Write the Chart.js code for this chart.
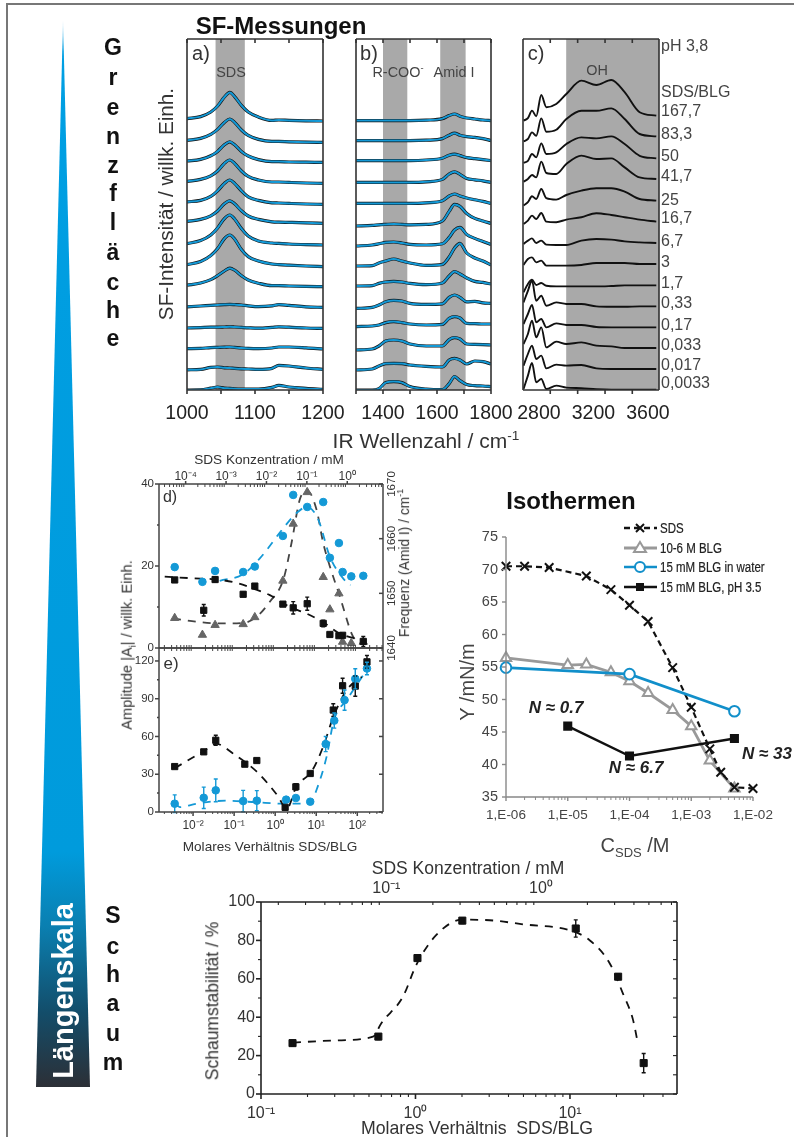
<!DOCTYPE html>
<html>
<head>
<meta charset="utf-8">
<title>SF-Messungen</title>
<script src="https://cdn.jsdelivr.net/npm/chart.js@4/dist/chart.umd.min.js"></script>
<style>
body { margin: 0; background: #fff; font-family: "Liberation Sans", Arial, sans-serif; }
#page { position: relative; width: 794px; height: 1137px; overflow: hidden; filter: blur(0.35px); }
#page canvas { position: absolute; }
.t { position: absolute; white-space: nowrap; transform: translate(-50%, -50%); color: #333; line-height: 1; }
sub, sup { font-size: 65%; line-height: 0; }
</style>
</head>
<body>
<div id="page"></div>
<script>
// sample ratios, top trace first
const ratios = ['167,7', '83,3', '50', '41,7', '25', '16,7', '6,7', '3', '1,7', '0,33', '0,17', '0,033', '0,017', '0,0033'];
const ratioLabelY = [111, 134, 156, 176, 200, 218, 241, 262, 283, 303, 325, 345, 365, 383];

// a) SDS region
const waveA = [1000, 1020, 1035, 1045, 1055, 1063, 1070, 1080, 1090, 1105, 1125, 1135, 1150, 1175, 1200];
const offsetsA = [13.45, 12.38, 11.38, 10.33, 9.28, 8.33, 7.25, 6.17, 5.17, 4.13, 3.08, 2.05, 1.03, 0.03];
const spectraA = [
    [0.12, 0.22, 0.45, 0.75, 1.2, 1.43, 1.22, 0.78, 0.45, 0.2, 0.03, 0.05, 0.03, 0.01, 0],
    [0.1, 0.2, 0.4, 0.65, 1.0, 1.17, 1.0, 0.62, 0.35, 0.15, 0.05, 0.05, 0.03, 0.01, 0],
    [0.07, 0.15, 0.33, 0.55, 0.88, 1.03, 0.88, 0.55, 0.32, 0.14, 0.04, 0.04, 0.02, 0.01, 0],
    [0.1, 0.2, 0.38, 0.62, 1.0, 1.17, 1.0, 0.62, 0.35, 0.17, 0.07, 0.07, 0.05, 0.02, 0],
    [0.13, 0.2, 0.4, 0.68, 1.05, 1.22, 1.05, 0.68, 0.38, 0.2, 0.08, 0.07, 0.05, 0.02, 0],
    [0.1, 0.2, 0.38, 0.62, 0.98, 1.13, 0.98, 0.63, 0.37, 0.2, 0.08, 0.06, 0.05, 0.03, 0],
    [0.07, 0.22, 0.5, 0.85, 1.32, 1.5, 1.3, 0.82, 0.45, 0.2, 0.1, 0.08, 0.05, 0.02, 0],
    [0.1, 0.25, 0.55, 0.9, 1.4, 1.58, 1.38, 0.85, 0.5, 0.28, 0.13, 0.1, 0.07, 0.03, 0],
    [0.07, 0.18, 0.35, 0.55, 0.78, 0.92, 0.82, 0.55, 0.33, 0.17, 0.05, 0.05, 0.03, 0.01, 0],
    [0.03, 0.07, 0.1, 0.12, 0.14, 0.15, 0.14, 0.12, 0.08, 0.04, 0.08, 0.14, 0.1, 0.03, 0],
    [0.02, 0.04, 0.06, 0.06, 0.07, 0.08, 0.07, 0.05, 0.03, 0.01, 0.05, 0.08, 0.06, 0.02, 0],
    [0.02, 0.03, 0.07, 0.08, 0.09, 0.1, 0.08, 0.05, 0.03, 0.02, 0.05, 0.1, 0.1, 0.06, 0],
    [-0.02, 0, 0.1, 0.12, 0.08, 0.07, 0.05, 0.03, 0.02, 0, 0.05, 0.2, 0.17, 0.07, 0],
    [-0.03, -0.02, 0.06, 0.12, 0.06, 0.05, 0.03, 0.02, 0.02, 0.02, 0.1, 0.2, 0.12, 0.05, 0]
];

// b) R-COO / Amid I region
const waveB = [1300, 1360, 1385, 1410, 1440, 1470, 1500, 1560, 1620, 1645, 1665, 1685, 1710, 1740, 1770, 1800];
const offsetsB = [13.47, 12.47, 11.47, 10.38, 9.33, 8.33, 7.28, 6.25, 5.3, 4.33, 3.3, 2.25, 1.3, 0.17];
const spectraB = [
    [0, 0, 0, 0, 0, 0, 0, 0.02, 0.1, 0.25, 0.33, 0.22, 0.13, 0.08, 0.03, 0],
    [0, 0, 0, 0, 0, 0, 0, 0.02, 0.1, 0.27, 0.37, 0.27, 0.2, 0.16, 0.1, 0],
    [0, 0, 0, 0, 0, 0, 0, 0.03, 0.12, 0.27, 0.32, 0.25, 0.15, 0.1, 0.05, 0],
    [0, 0, 0, 0, 0, 0, 0, 0.03, 0.15, 0.42, 0.53, 0.4, 0.2, 0.13, 0.08, 0],
    [0, 0, 0, 0, 0, 0, 0, 0.03, 0.13, 0.37, 0.47, 0.37, 0.27, 0.18, 0.1, 0],
    [-0.13, -0.1, -0.07, -0.05, -0.03, -0.05, -0.07, -0.05, 0.12, 0.6, 0.95, 0.85, 0.5, 0.25, 0.12, 0],
    [-0.08, -0.03, 0.03, 0.1, 0.12, 0.07, 0, -0.03, 0.03, 0.35, 0.72, 0.85, 0.5, 0.3, 0.15, 0],
    [-0.05, -0.03, 0.1, 0.2, 0.3, 0.2, 0.1, -0.02, 0.03, 0.4, 0.85, 1.08, 0.6, 0.35, 0.2, 0],
    [-0.1, -0.08, 0.03, 0.1, 0.13, 0.1, 0.03, -0.03, 0.05, 0.4, 0.62, 0.5, 0.3, 0.13, 0.08, 0],
    [-0.25, -0.2, -0.08, 0.08, 0.15, 0.12, 0, -0.05, -0.02, 0.3, 0.42, 0.3, 0.08, 0.1, 0.03, 0],
    [-0.13, -0.1, -0.05, 0.07, 0.12, 0.07, 0, -0.05, -0.02, 0.28, 0.37, 0.3, 0.03, 0.02, 0, 0],
    [-0.25, -0.2, -0.05, 0.2, 0.25, 0.2, 0.05, -0.05, -0.05, 0.27, 0.37, 0.3, 0.05, 0.03, 0.02, 0],
    [-0.3, -0.25, -0.1, 0.02, 0.03, 0.02, -0.05, -0.12, -0.15, 0.2, 0.28, 0.2, 0, 0.15, 0.12, 0],
    [-0.17, -0.17, -0.1, 0.2, 0.25, 0.2, 0, -0.12, -0.15, 0.15, 0.5, 0.3, 0.1, 0.05, 0.03, 0]
];

// c) CH / OH region
const waveC = [2687, 2719, 2749, 2780, 2817, 2854, 2927, 3001, 3111, 3221, 3331, 3429, 3539, 3661];
const offsetsC = [13.72, 12.68, 11.58, 10.55, 9.47, 8.42, 7.35, 6.3, 5.23, 4.18, 3.13, 2.1, 1.05, 0.02];
const spectraC = [
    [-0.25, -0.13, 0.25, -0.03, 1.03, 0.42, 0.58, 1.08, 1.75, 1.53, 1.78, 1.17, 0.17, 0],
    [-0.25, -0.13, 0.2, 0.03, 0.9, 0.23, 0.33, 0.87, 1.28, 1.28, 1.4, 0.87, 0.12, 0],
    [-0.23, -0.12, 0.22, 0.05, 0.75, 0.22, 0.3, 0.72, 1.05, 1.0, 1.1, 0.72, 0.13, 0],
    [-0.13, 0, 0.2, 0.08, 0.87, 0.3, 0.25, 0.75, 1.17, 1.0, 1.03, 0.58, 0.08, 0],
    [-0.25, -0.08, 0.22, 0.08, 0.58, 0.12, 0.05, 0.28, 0.5, 0.62, 0.62, 0.45, 0.08, 0],
    [-0.12, 0.05, 0.3, 0.13, 0.43, 0, -0.03, 0.1, 0.22, 0.42, 0.33, 0.22, 0.1, 0],
    [-0.05, 0.12, 0.23, 0, 0.12, -0.08, -0.1, -0.1, 0.12, 0.2, 0.17, 0.08, 0.03, 0],
    [-0.05, 0.25, 0.33, 0.08, 0.17, -0.08, -0.08, -0.08, -0.05, 0.05, 0.05, 0.05, 0, 0],
    [-0.35, 0.07, 0.28, 0.02, 0.12, -0.02, -0.05, -0.05, -0.05, -0.05, -0.03, 0, 0, 0],
    [0.2, 0.78, 1.28, 0.28, 0.53, 0.03, 0.2, 0.12, 0.12, 0, -0.02, -0.02, 0, 0],
    [0.17, 0.67, 1.12, 0.25, 0.42, 0, 0.2, 0.12, 0.12, 0.02, 0, 0, 0, 0],
    [0.2, 0.7, 1.37, 0.53, 1.03, 0.03, 0.32, 0.2, 0.28, 0.12, 0.08, 0, 0, 0],
    [0.17, 0.75, 1.17, 0.5, 0.67, 0.03, 0.22, 0.17, 0.2, 0.03, 0, 0, 0, 0],
    [0.03, 0.7, 1.33, 0.37, 0.53, 0.03, 0.2, 0.1, 0.07, 0.02, 0, 0, 0, 0]
];

// d) amplitude and Amid I frequency against molar ratio
const dRatio = [0.00357, 0.0169, 0.0344, 0.166, 0.319, 1.54, 2.75, 6.03, 14.8, 21.5, 35.7, 43.9, 71.4, 140];
const dFreq = [1654.8, 1652.1, 1654.1, 1653.9, 1654.9, 1660.5, 1668, 1665.8, 1666.7, 1656.5, 1659.2, 1653.9, 1653.1, 1653.2];
const dFreqFitX = [0.0447, 0.166, 0.423, 1.57, 3.31, 6.03, 11.2, 21.5, 45.6, 68.7];
const dFreqFit = [1652.3, 1653.5, 1656.4, 1661.9, 1664.7, 1665.8, 1663.5, 1656.7, 1652.7, 1651.5];
const dBlackX = [0.00357, 0.0182, 0.0344, 0.166, 0.319, 1.54, 2.75, 6.03, 14.8, 21.5, 35.7, 43.9, 140];
const dBlack = [16.6, 9.2, 16.7, 13.1, 15.1, 10.7, 9.8, 10.8, 6.0, 3.3, 3.0, 3.1, 1.6];
const dBlackErr = [0.4, 1.4, 0.6, 0.5, 0.5, 0.5, 1.5, 1.6, 0.8, 0.4, 0.4, 0.4, 1.2];
const dBlackFitX = [0.00204, 0.01, 0.0309, 0.114, 0.29, 0.741, 2.28, 5.8, 14.8, 37.8, 140];
const dBlackFit = [17.4, 17, 16.8, 15.9, 14.5, 12.9, 10.0, 8.4, 6.3, 3.5, 1.9];
const dGrey = [7.3, 3.2, 5.6, 5.8, 7.5, 16.4, 30.3, 38.0, 17.3, 9.4, 13.3, 1.5, 1.2, 1.5];
const dGreyFitX = [0.00324, 0.012, 0.0447, 0.166, 0.351, 0.741, 1.57, 2.5, 3.98, 6.03, 10.2, 14.8, 21.5, 37.8, 72.8, 96.4];
const dGreyFit = [7.2, 6.4, 6.0, 6.1, 7.6, 11.3, 16.6, 25.6, 36.2, 38.4, 33.7, 25.6, 19.9, 12.5, 3.5, 1.4];

// e) amplitudes against molar ratio
const eBlackX = [0.00357, 0.0182, 0.0357, 0.182, 0.357, 1.75, 3.19, 7.14, 26, 43.9, 89.3, 172];
const eBlack = [36.1, 47.8, 57, 38, 40.9, 3.7, 20, 30.6, 81, 100.3, 100, 119.3];
const eBlackErr = [1.5, 1.5, 4, 1.5, 1.5, 1, 2.5, 1.5, 5, 6, 8, 5];
const eBlackFitX = [0.00357, 0.0175, 0.037, 0.104, 0.351, 1.18, 1.89, 3.31, 7.7, 14.8, 26.2, 55, 128];
const eBlackFit = [34.8, 48, 54.1, 45.4, 32.2, 12.4, 2.4, 20.3, 32.2, 52, 75.7, 96.8, 107.4];
const eBlueX = [0.00357, 0.0182, 0.0357, 0.166, 0.357, 1.85, 3.19, 7.14, 17, 27.5, 49, 89.3, 172];
const eBlue = [6.6, 11.3, 17.2, 8.7, 9, 9.8, 11.1, 8.2, 54, 72.6, 88.9, 105.8, 114];
const eBlueErr = [7, 8.5, 9, 8.5, 8, 1, 1.5, 1, 6, 6, 8, 8, 5];
const eBlueFitX = [0.00357, 0.00473, 0.012, 0.065, 0.351, 1.57, 7.0, 10.2, 17.9, 27, 55, 169];
const eBlueFit = [7.1, 3.9, 6.6, 9, 7.7, 6.6, 6.6, 17.7, 44, 73, 89, 112.7];

// isotherms
const isoSdsX = [1e-6, 2e-6, 5e-6, 2e-5, 5e-5, 1e-4, 2e-4, 5e-4, 1e-3, 2e-3, 3e-3, 5e-3, 1e-2];
const isoSds = [70.5, 70.5, 70.3, 69, 66.9, 64.5, 62, 54.9, 48.8, 42.4, 38.8, 36.5, 36.3];
const isoBlgX = [1e-6, 1e-5, 2e-5, 5e-5, 1e-4, 2e-4, 5e-4, 1e-3, 2e-3, 5e-3];
const isoBlg = [56.4, 55.3, 55.4, 54.2, 52.8, 51, 48.4, 45.9, 40.6, 36.3];
const isoWaterX = [1e-6, 1e-4, 5e-3];
const isoWater = [54.9, 53.9, 48.2];
const isoAcidX = [1e-5, 1e-4, 5e-3];
const isoAcid = [45.9, 41.3, 44];
const isoTicks = [1e-6, 1e-5, 1e-4, 1e-3, 1e-2];
const isoTickLabels = ['1,E-06', '1,E-05', '1,E-04', '1,E-03', '1,E-02'];
const isoNames = ['SDS', '10-6 M BLG', '15 mM BLG in water', '15 mM BLG, pH 3.5'];

// foam stability
const foamX = [0.16, 0.575, 1.03, 2.01, 10.9, 20.5, 30];
const foam = [26.5, 29.9, 70.8, 90.3, 86.2, 61.1, 16.1];
const foamErr = [1.5, 1.5, 1.5, 1.5, 4.5, 1.5, 5];
const foamFitX = [0.161, 0.308, 0.531, 0.601, 0.83, 1.01, 1.36, 2.01, 3.02, 4.96, 9.95, 13.4, 18.1, 22, 25.6, 27.5];
const foamFit = [26.8, 27.9, 29.9, 36.9, 50.7, 67.1, 82.7, 90.8, 90.5, 88.4, 85.3, 80.1, 68, 52.4, 38.6, 26.5];

const BLUE = '#1499d6';
const page = document.getElementById('page');

function put(html, x, y, css) {
    let el = document.createElement('div');
    el.className = 't';
    el.innerHTML = html;
    el.style.cssText = `left:${x}px;top:${y}px;${css || ''}`;
    page.appendChild(el);
    return el;
}

const pts = (xs, ys) => xs.map((x, i) => ({ x: x, y: ys[i] }));
const supDigits = { '-': '⁻', '0': '⁰', '1': '¹', '2': '²', '3': '³', '4': '⁴' };
const powerLabel = v => '10' + String(Math.round(Math.log10(v))).split('').map(c => supDigits[c]).join('');

function steps(from, to, step) {
    let out = [];
    for (let v = from; v <= to + 1e-9; v += step) out.push(v);
    return out;
}

function minorLog(fromExp, toExp) {
    let out = [];
    for (let e = fromExp; e <= toExp; e++) {
        for (let m = 2; m <= 9; m++) out.push(m * Math.pow(10, e));
    }
    return out;
}

// fixed tick values on an axis, the labels stay the library's
const fixedTicks = values => scale => { scale.ticks = values.map(v => ({ value: v })); };

// draws grey bands, frame and tick marks from the chart's scales
function panelPlugin(cfg) {
    return {
        id: 'panel',
        beforeDatasetsDraw(chart) {
            let { ctx, chartArea: a, scales } = chart;
            (cfg.bands || []).forEach(b => {
                ctx.fillStyle = '#a9a9a9';
                let x0 = scales.x.getPixelForValue(b[0]);
                let x1 = scales.x.getPixelForValue(b[1]);
                ctx.fillRect(x0, a.top, x1 - x0, a.bottom - a.top);
            });
        },
        afterDatasetsDraw(chart) {
            let { ctx, chartArea: a, scales } = chart;
            ctx.save();
            chart.data.datasets.forEach((ds, i) => {
                if (!ds.errors) return;
                let yScale = scales[ds.yAxisID || 'y'];
                ctx.strokeStyle = ds.borderColor;
                ctx.lineWidth = 1.4;
                chart.getDatasetMeta(i).data.forEach((p, k) => {
                    let y0 = yScale.getPixelForValue(ds.data[k].y - ds.errors[k]);
                    let y1 = yScale.getPixelForValue(ds.data[k].y + ds.errors[k]);
                    ctx.beginPath();
                    ctx.moveTo(p.x, y0); ctx.lineTo(p.x, y1);
                    ctx.moveTo(p.x - 2, y0); ctx.lineTo(p.x + 2, y0);
                    ctx.moveTo(p.x - 2, y1); ctx.lineTo(p.x + 2, y1);
                    ctx.stroke();
                });
            });
            ctx.strokeStyle = cfg.color || '#333';
            let lineWidth = cfg.lineWidth || 1.6;
            (cfg.marks || []).forEach(m => {
                let scale = scales[m.scale];
                ctx.lineWidth = m.width || lineWidth;
                m.at.filter(v => v >= scale.min && v <= scale.max).forEach(v => {
                    let p = scale.getPixelForValue(v);
                    ctx.beginPath();
                    if (m.edge == 'top') { ctx.moveTo(p, a.top); ctx.lineTo(p, a.top - m.len); }
                    if (m.edge == 'bottom') { ctx.moveTo(p, a.bottom); ctx.lineTo(p, a.bottom + m.len); }
                    if (m.edge == 'left') { ctx.moveTo(a.left, p); ctx.lineTo(a.left - m.len, p); }
                    if (m.edge == 'right') { ctx.moveTo(a.right, p); ctx.lineTo(a.right + m.len, p); }
                    ctx.stroke();
                });
            });
            ctx.lineWidth = lineWidth;
            ctx.beginPath();
            let sides = cfg.sides || 'lrtb';
            if (sides.includes('l')) { ctx.moveTo(a.left, a.top); ctx.lineTo(a.left, a.bottom); }
            if (sides.includes('r')) { ctx.moveTo(a.right, a.top); ctx.lineTo(a.right, a.bottom); }
            if (sides.includes('t')) { ctx.moveTo(a.left, a.top); ctx.lineTo(a.right, a.top); }
            if (sides.includes('b')) { ctx.moveTo(a.left, a.bottom); ctx.lineTo(a.right, a.bottom); }
            ctx.stroke();
            ctx.restore();
        }
    };
}

// a chart whose plot area sits exactly on box {left, top, right, bottom} of the page
function addChart(box, datasets, scales, cfg) {
    const m = 46;
    let canvas = document.createElement('canvas');
    canvas.width = box.right - box.left + 2 * m;
    canvas.height = box.bottom - box.top + 2 * m;
    canvas.style.left = (box.left - m) + 'px';
    canvas.style.top = (box.top - m) + 'px';
    page.appendChild(canvas);

    let used = {};
    Object.values(scales).forEach(s => {
        s.grid = { display: false, drawTicks: false };
        s.border = { display: false };
        if (s.display === false) return;
        used[s.position] = true;
        s.afterFit = scale => {
            if (scale.isHorizontal()) scale.height = m; else scale.width = m;
        };
    });
    return new Chart(canvas, {
        type: 'line',
        data: { datasets: datasets },
        plugins: [panelPlugin(cfg)],
        options: {
            responsive: false,
            animation: false,
            devicePixelRatio: 1,
            layout: {
                padding: {
                    left: used.left ? 0 : m, right: used.right ? 0 : m,
                    top: used.top ? 0 : m, bottom: used.bottom ? 0 : m
                }
            },
            plugins: { legend: { display: false }, tooltip: { enabled: false } },
            scales: scales
        }
    });
}

function tickFont(size, family) {
    return { size: size, family: family || '"Liberation Sans", Arial, sans-serif' };
}

function spectrumPanel(box, waves, spectra, offsets, withFit, xMin, xMax, labelTicks, markAt, bands) {
    let black = spectra.map((s, i) => ({
        data: pts(waves, s.map(v => v + offsets[i])),
        borderColor: '#111', borderWidth: withFit ? 3.2 : 1.9, pointRadius: 0, cubicInterpolationMode: 'monotone'
    }));
    let blue = withFit ? spectra.map((s, i) => ({
        data: pts(waves, s.map(v => v + offsets[i])),
        borderColor: BLUE, borderWidth: 2, pointRadius: 0, cubicInterpolationMode: 'monotone'
    })) : [];
    addChart(box, blue.concat(black), {
        x: {
            type: 'linear', position: 'bottom', min: xMin, max: xMax,
            afterBuildTicks: fixedTicks(labelTicks),
            ticks: { font: tickFont(19.5), color: '#222', padding: 12, autoSkip: false, maxRotation: 0, callback: v => String(v) }
        },
        y: { type: 'linear', display: false, position: 'left', min: 0, max: 17.55 }
    }, {
        bands: bands, color: '#333',
        marks: [
            { scale: 'x', edge: 'bottom', at: markAt, len: 4 },
            { scale: 'x', edge: 'top', at: markAt, len: -4 }
        ]
    });
}

spectrumPanel({ left: 187, top: 39, right: 323, bottom: 390 }, waveA, spectraA, offsetsA, true,
    1000, 1200, [1000, 1100, 1200], steps(1000, 1200, 50), [[1042, 1085]]);
spectrumPanel({ left: 356, top: 39, right: 491, bottom: 390 }, waveB, spectraB, offsetsB, true,
    1300, 1800, [1400, 1600, 1800], steps(1300, 1800, 100), [[1400, 1490], [1612, 1706]]);
spectrumPanel({ left: 523, top: 39, right: 659, bottom: 390 }, waveC, spectraC, offsetsC, false,
    2683, 3681, [2800, 3200, 3600], [2883, 3084, 3285, 3485], [[3000, 3681]]);

// panels d and e share the molar ratio axis
const ratioMin = 0.00148, ratioMax = 423;
const ratioDecades = [0.01, 0.1, 1, 10, 100];

const dashed = (xs, ys, color) => ({
    data: pts(xs, ys), borderColor: color, borderWidth: 1.8, borderDash: [8, 7],
    pointRadius: 0, cubicInterpolationMode: 'monotone'
});
const dots = (xs, ys, color, style, radius, errors) => ({
    data: pts(xs, ys), showLine: false, borderColor: color, backgroundColor: color,
    pointStyle: style, pointRadius: radius, errors: errors
});

let freqDots = dots(dRatio, dFreq, BLUE, 'circle', 3.8);
freqDots.yAxisID = 'yFreq';
let freqFit = dashed(dFreqFitX, dFreqFit, BLUE);
freqFit.yAxisID = 'yFreq';

addChart({ left: 159, top: 484, right: 383, bottom: 648 }, [
    dots(dBlackX, dBlack, '#111', 'rect', 4.4, dBlackErr),
    freqDots,
    dots(dRatio, dGrey, '#666', 'triangle', 4.8),
    dashed(dBlackFitX, dBlackFit, '#111'),
    freqFit,
    dashed(dGreyFitX, dGreyFit, '#444')
], {
    x: { type: 'logarithmic', display: false, position: 'bottom', min: ratioMin, max: ratioMax },
    xTop: {
        type: 'logarithmic', position: 'top', min: 0.0000219, max: 7.66,
        afterBuildTicks: fixedTicks([1e-4, 1e-3, 1e-2, 1e-1, 1]),
        ticks: { font: tickFont(12), color: '#333', padding: 0, autoSkip: false, maxRotation: 0, callback: powerLabel }
    },
    y: {
        type: 'linear', position: 'left', min: 0, max: 40,
        afterBuildTicks: fixedTicks([0, 20, 40]),
        ticks: { font: tickFont(11.5), color: '#333', padding: 5, callback: v => String(v) }
    },
    yFreq: {
        type: 'linear', position: 'right', min: 1640, max: 1670,
        afterBuildTicks: fixedTicks([1640, 1650, 1660, 1670]),
        ticks: { font: tickFont(11.5), color: '#333', padding: -4, crossAlign: 'center', minRotation: 90, maxRotation: 90, callback: v => String(v) }
    }
}, {
    color: '#444', lineWidth: 1.5,
    marks: [
        { scale: 'xTop', edge: 'top', at: [1e-4, 1e-3, 1e-2, 1e-1, 1], len: 3 },
        { scale: 'xTop', edge: 'top', at: minorLog(-5, 0), len: -3, width: 1 },
        { scale: 'x', edge: 'bottom', at: minorLog(-3, 2), len: -3, width: 1 },
        { scale: 'y', edge: 'left', at: [0, 20, 40], len: 4 },
        { scale: 'y', edge: 'left', at: [10, 30], len: 2 },
        { scale: 'yFreq', edge: 'right', at: [1640, 1650, 1660, 1670], len: -4 }
    ]
});

addChart({ left: 159, top: 648, right: 383, bottom: 812 }, [
    dots(eBlackX, eBlack, '#111', 'rect', 4.4, eBlackErr),
    dots(eBlueX, eBlue, BLUE, 'circle', 3.8, eBlueErr),
    dashed(eBlackFitX, eBlackFit, '#111'),
    dashed(eBlueFitX, eBlueFit, BLUE)
], {
    x: {
        type: 'logarithmic', position: 'bottom', min: ratioMin, max: ratioMax,
        afterBuildTicks: fixedTicks(ratioDecades),
        ticks: { font: tickFont(12), color: '#333', padding: 6, autoSkip: false, maxRotation: 0, callback: powerLabel }
    },
    y: {
        type: 'linear', position: 'left', min: 0, max: 130.3,
        afterBuildTicks: fixedTicks([0, 30, 60, 90, 120]),
        ticks: { font: tickFont(11.5), color: '#333', padding: 5, callback: v => String(v) }
    }
}, {
    color: '#444', lineWidth: 1.5,
    marks: [
        { scale: 'x', edge: 'bottom', at: ratioDecades, len: 4 },
        { scale: 'x', edge: 'bottom', at: minorLog(-3, 2), len: 2, width: 1 },
        { scale: 'x', edge: 'top', at: minorLog(-3, 2), len: -3, width: 1 },
        { scale: 'y', edge: 'left', at: [0, 30, 60, 90, 120], len: 4 },
        { scale: 'y', edge: 'left', at: [15, 45, 75, 105], len: 2 },
        { scale: 'y', edge: 'right', at: [0, 30, 60, 90, 120], len: -4 }
    ]
});

// isotherms
const isoLine = (xs, ys, color, width, dash, style, radius, fill) => ({
    data: pts(xs, ys), borderColor: color, borderWidth: width, borderDash: dash,
    pointStyle: style, pointRadius: radius, pointBorderColor: color, pointBackgroundColor: fill,
    pointBorderWidth: 2, clip: false
});
addChart({ left: 506, top: 537, right: 753, bottom: 797 }, [
    isoLine(isoAcidX, isoAcid, '#111', 2.4, [], 'rect', 5, '#111'),
    isoLine(isoWaterX, isoWater, '#118fca', 2.6, [], 'circle', 5.3, '#fff'),
    isoLine(isoSdsX, isoSds, '#111', 2.2, [6, 4], 'crossRot', 6, '#111'),
    isoLine(isoBlgX, isoBlg, '#999', 2.8, [], 'triangle', 6, '#fff')
], {
    x: {
        type: 'logarithmic', position: 'bottom', min: 1e-6, max: 1e-2,
        afterBuildTicks: fixedTicks(isoTicks),
        ticks: {
            font: tickFont(13.5), color: '#444', padding: 10, autoSkip: false, maxRotation: 0,
            callback: v => isoTickLabels[isoTicks.findIndex(t => Math.abs(t / v - 1) < 0.01)]
        }
    },
    y: {
        type: 'linear', position: 'left', min: 35, max: 75,
        afterBuildTicks: fixedTicks(steps(35, 75, 5)),
        ticks: { font: tickFont(14.5), color: '#444', padding: 8, callback: v => String(v) }
    }
}, {
    color: '#888', lineWidth: 1.4, sides: 'lb',
    marks: [
        { scale: 'y', edge: 'left', at: steps(35, 75, 5), len: 4 },
        { scale: 'x', edge: 'bottom', at: isoTicks, len: 4 },
        { scale: 'x', edge: 'bottom', at: minorLog(-6, -3), len: 3, width: 1 }
    ]
});

// foam
const foamDecades = [0.1, 1, 10];
addChart({ left: 261, top: 902, right: 677, bottom: 1094 }, [
    dots(foamX, foam, '#111', 'rect', 5, foamErr),
    dashed(foamFitX, foamFit, '#111')
], {
    x: {
        type: 'logarithmic', position: 'bottom', min: 0.1, max: 49.3,
        afterBuildTicks: fixedTicks(foamDecades),
        ticks: { font: tickFont(16), color: '#333', padding: 10, autoSkip: false, maxRotation: 0, callback: powerLabel }
    },
    xTop: {
        type: 'logarithmic', position: 'top', min: 0.01545, max: 7.6,
        afterBuildTicks: fixedTicks([0.1, 1]),
        ticks: { font: tickFont(16), color: '#333', padding: 4, autoSkip: false, maxRotation: 0, callback: powerLabel }
    },
    y: {
        type: 'linear', position: 'left', min: 0, max: 100,
        afterBuildTicks: fixedTicks(steps(0, 100, 20)),
        ticks: { font: tickFont(16), color: '#333', padding: 6, callback: v => String(Math.round(v)) }
    }
}, {
    color: '#222', lineWidth: 1.6,
    marks: [
        { scale: 'x', edge: 'bottom', at: foamDecades, len: 5 },
        { scale: 'x', edge: 'bottom', at: minorLog(-1, 1), len: 3, width: 1.1 },
        { scale: 'xTop', edge: 'top', at: minorLog(-2, 0), len: -3, width: 1.1 },
        { scale: 'y', edge: 'left', at: steps(0, 100, 20), len: 5 },
        { scale: 'y', edge: 'left', at: steps(10, 90, 20), len: 3, width: 1.1 },
        { scale: 'y', edge: 'right', at: steps(0, 100, 10), len: -4, width: 1.1 }
    ]
});

// page frame and the Längenskala wedge
let frameTop = document.createElement('div');
frameTop.style.cssText = 'position:absolute;left:6px;top:3px;width:788px;height:2px;background:#777';
page.appendChild(frameTop);
let frameLeft = document.createElement('div');
frameLeft.style.cssText = 'position:absolute;left:6px;top:3px;width:2px;height:1134px;background:#777';
page.appendChild(frameLeft);
let wedge = document.createElement('div');
wedge.style.cssText = 'position:absolute;left:36px;top:20px;width:54px;height:1067px;clip-path:polygon(50% 0,100% 100%,0 100%);' +
    'background:linear-gradient(to bottom,#cfeaf8 0,#009fe3 3%,#009bdc 78%,#0a7fb0 85%,#134d6a 93%,#2c2f36 100%)';
page.appendChild(wedge);
put('Längenskala', 63, 991, 'color:#fff;font-size:29px;font-weight:bold;transform:translate(-50%,-50%) rotate(-90deg)');

// side letters
const sideFont = 'font-size:23px;font-weight:bold;color:#111';
const grenzLetters = ['G', 'r', 'e', 'n', 'z', 'f', 'l', 'ä', 'c', 'h', 'e'];
const grenzY = [47, 77, 107, 136, 165, 193, 222, 252, 282, 310, 338];
const schaumLetters = ['S', 'c', 'h', 'a', 'u', 'm'];
const schaumY = [915, 946, 974, 1003, 1033, 1062];
grenzLetters.forEach((c, i) => put(c, 113, grenzY[i], sideFont));
schaumLetters.forEach((c, i) => put(c, 113, schaumY[i], sideFont));

// titles and axis labels
const vertical = 'transform:translate(-50%,-50%) rotate(-90deg);';
const leftAnchor = 'transform:translate(0,-50%);';
put('SF-Messungen', 281, 26, 'font-size:24px;font-weight:bold;color:#111');
put('SF-Intensität / willk. Einh.', 166, 204, vertical + 'font-size:20.7px;color:#333');
put('IR Wellenzahl / cm<sup>-1</sup>', 426, 440, 'font-size:21px;color:#333');
put('a)', 201, 53, 'font-size:20px');
put('b)', 369, 53, 'font-size:20px');
put('c)', 536, 53, 'font-size:20px');
put('SDS', 231, 72, 'font-size:14.4px;color:#444');
put('R-COO<sup>-</sup>', 398, 72, 'font-size:14.4px;color:#444');
put('Amid I', 454, 72, 'font-size:14.4px;color:#444');
put('OH', 597, 70, 'font-size:14.4px;color:#444');
put('pH 3,8', 661, 46, leftAnchor + 'font-size:16px;color:#444');
put('SDS/BLG', 661, 92, leftAnchor + 'font-size:16px;color:#444');
ratios.forEach((r, i) => put(r, 661, ratioLabelY[i], leftAnchor + 'font-size:16px;color:#444'));

put('SDS Konzentration / mM', 269, 460, 'font-size:13.6px');
put('Molares Verhältnis SDS/BLG', 270, 847, 'font-size:13.6px');
put('Amplitude |A<sub>i</sub>| / willk. Einh.', 127, 645, vertical + 'font-size:14.6px');
put('Frequenz (Amid I) / cm<sup>-1</sup>', 405, 563, vertical + 'font-size:13.8px');
put('d)', 170, 497, 'font-size:16px');
put('e)', 171, 663, 'font-size:17px');

put('Isothermen', 571, 501, 'font-size:24px;font-weight:bold;color:#111');
put('Y /mN/m', 467, 682, vertical + 'font-size:20px;color:#444');
put('C<sub>SDS</sub> /M', 635, 845, 'font-size:20px;color:#444');
const nFont = 'font-size:17px;font-weight:bold;font-style:italic;color:#222';
put('N ≈ 0.7', 556, 707, nFont);
put('N ≈ 6.7', 636, 767, nFont);
put('N ≈ 33', 767, 753, nFont);

const legendY = [528, 548, 567, 587];
isoNames.forEach((n, i) => put(n, 660, legendY[i],
    'transform:translate(0,-50%) scaleX(0.82);transform-origin:left center;font-size:14px;color:#222;-webkit-text-stroke:0.2px #222'));
let legend = document.createElementNS('http://www.w3.org/2000/svg', 'svg');
legend.setAttribute('width', 45);
legend.setAttribute('height', 80);
legend.style.cssText = 'position:absolute;left:620px;top:518px';
legend.innerHTML =
    '<line x1="4" x2="37" y1="10" y2="10" stroke="#111" stroke-width="2.4" stroke-dasharray="6 4"/>' +
    '<path d="M16 6 l8 8 M24 6 l-8 8" stroke="#111" stroke-width="2"/>' +
    '<line x1="4" x2="37" y1="30" y2="30" stroke="#999" stroke-width="2.8"/>' +
    '<path d="M20 24 l6 10 h-12 z" fill="#fff" stroke="#999" stroke-width="2"/>' +
    '<line x1="4" x2="37" y1="49" y2="49" stroke="#118fca" stroke-width="2.4"/>' +
    '<circle cx="20" cy="49" r="5" fill="#fff" stroke="#118fca" stroke-width="2"/>' +
    '<line x1="4" x2="37" y1="69" y2="69" stroke="#111" stroke-width="2.4"/>' +
    '<rect x="16" y="65" width="8" height="8" fill="#111"/>';
page.appendChild(legend);

put('SDS Konzentration / mM', 468, 869, 'font-size:17.5px');
put('Molares Verhältnis&nbsp; SDS/BLG', 477, 1129, 'font-size:17.7px');
put('Schaumstabilität / %', 213, 1001, vertical + 'font-size:17.5px');
</script>
</body>
</html>
